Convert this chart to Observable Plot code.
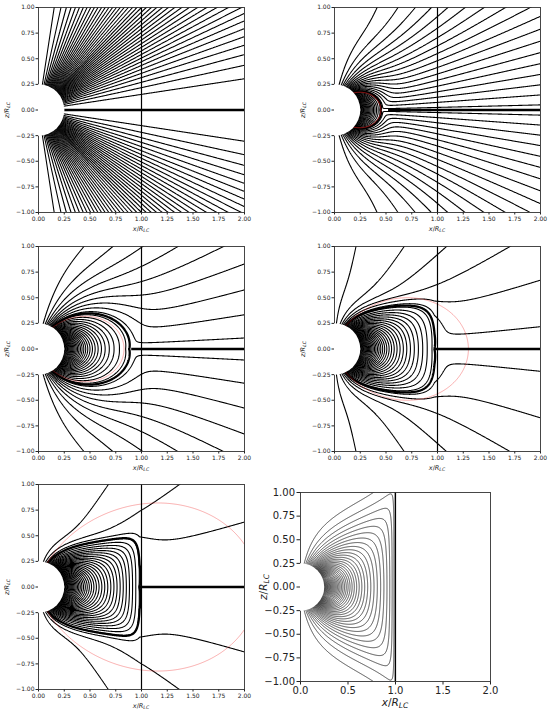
<!DOCTYPE html>
<html><head><meta charset="utf-8">
<script src="https://cdn.jsdelivr.net/npm/d3@7"></script>
<script src="https://cdn.jsdelivr.net/npm/@observablehq/plot@0.6"></script>
<style>
body{margin:0;background:#fff;}
#root{position:relative;width:550px;height:711px;overflow:hidden;font-family:"DejaVu Sans",sans-serif;background:#fff;}
.lab{position:absolute;white-space:nowrap;color:#222;line-height:1;font-family:"DejaVu Sans",sans-serif;}
.lab sub{font-size:72%;vertical-align:-0.3em;line-height:0;}
</style></head><body><div id="root"></div>
<script>
// ---------------- data ----------------
// footpoint colatitudes (deg) of the traced field lines on the stellar surface
const footColatDeg = [8.67,12.31,15.14,17.55,19.70,21.67,23.51,25.24,26.89,28.47,30.00,31.48,32.93,34.34,35.72,37.09,38.43,39.76,41.08,42.39,43.70,45.00,46.30,47.61,48.92,50.24,51.57,52.91,54.28,55.66,57.07,58.52,60.00,61.53,63.11,64.76,66.49,68.33,70.30,72.45,74.87,77.69,81.33];
// colatitude (deg) of the last closed field line footpoint, panels 1-5
const polarCapDeg = [90, 48.3, 32.2, 24.4, 19.5];
// Y-point (start of current sheet), panels 1-5
const yPointX = [0.25, 0.52, 0.90, 0.97, 0.98];
// equatorial radius of the red reference dipole line, panels 1-5
const redLineR = [null, 0.45, 0.83, 1.30, 2.13];
const lightCylinderX = [1];
const starRadius = 0.25;
const xTicksA = [0, 0.25, 0.5, 0.75, 1, 1.25, 1.5, 1.75, 2];
const xTicksB = [0, 0.5, 1, 1.5, 2];
const yTicks = [-1, -0.75, -0.5, -0.25, 0, 0.25, 0.5, 0.75, 1];

// ---------------- field-line model ----------------
const rad = d => d * Math.PI / 180;
const psiLines = footColatDeg.map(d => Math.sin(rad(d)) ** 2);

function stretchX(v, sh) {
  if (sh.kind === "exp") {
    if (v > sh.x0) return sh.sSep * Math.pow(v / sh.x0, sh.p);
    return v * Math.exp(Math.pow(v / sh.L, sh.n));
  }
  if (sh.kind === "lc") return v >= sh.L ? Infinity : v / Math.pow(1 - Math.pow(v / sh.L, sh.n), 1 / sh.n);
  return v;
}
function dipoleFlux(x, z, sh) {
  const s = stretchX(x, sh);
  if (!isFinite(s)) return 0;
  const q = z * (1 + sh.b * z * z * z);
  const r2 = s * s + q * q + 1e-9;
  let D = starRadius * s * s / Math.pow(r2, 1.5);
  if (isFinite(sh.zd)) D *= Math.exp(-Math.pow(z / sh.zd, 4));
  return D;
}
function makeField(psiO, sh) {
  return (x, y) => {
    x = Math.abs(x); const z = Math.abs(y);
    const D = dipoleFlux(x, z, sh);
    const w = sh.a * x;
    const sl = z / Math.sqrt(z * z + w * w + 1e-12);
    const M = psiO * (1 - sl);
    const e = sh.c * psiO * Math.pow(sl, 0.75);
    return (D + M + Math.sqrt((D - M) * (D - M) + e * e)) / 2;
  };
}
const radialField = (x, y) => x * x / (x * x + y * y + 1e-12);
const plainDipole = (x, y) => { const r2 = x * x + y * y + 1e-9; return x * x / Math.pow(r2, 1.5); };

const shapes = [
  null,
  {a: 1.15, c: 0.5, kind: "none", b: 0, zd: 0.7},
  {a: 1.32, c: 0.5, kind: "none", b: 0, zd: 1.0},
  {a: 1.55, c: 0.5, kind: "exp", n: 4, p: 1, b: 3.9, zd: 0.85},
  {a: 1.6, c: 0.5, kind: "exp", n: 6, p: 1, b: 6.5, zd: 0.85}
];

const root = document.getElementById("root");
const fmt2 = d => d.toFixed(2).replace("-", "\u2212");
const fmt1 = d => d.toFixed(1).replace("-", "\u2212");

function addLabel(html, cx, cy, size, rotate) {
  const el = document.createElement("div");
  el.className = "lab";
  el.innerHTML = html;
  el.style.fontSize = size + "px";
  el.style.left = cx + "px";
  el.style.top = cy + "px";
  el.style.transform = "translate(-50%,-50%)" + (rotate ? " rotate(-90deg)" : "");
  root.appendChild(el);
}
const xLab = '<i>x</i>/<i>R</i><sub><i>LC</i></sub>';
const zLab = '<i>z</i>/<i>R</i><sub><i>LC</i></sub>';

const frames = [
  {fx: 38, fy: 7, fw: 206, fh: 205, lx: 7},
  {fx: 334, fy: 7, fw: 206, fh: 205, lx: 303},
  {fx: 38, fy: 246, fw: 206, fh: 205, lx: 7},
  {fx: 334, fy: 246, fw: 206, fh: 205, lx: 303},
  {fx: 38, fy: 484, fw: 206, fh: 205, lx: 7}
];

function place(svg, left, top) {
  svg.style.position = "absolute";
  svg.style.left = left + "px";
  svg.style.top = top + "px";
  root.appendChild(svg);
}

const contourBox = {x1: -0.1, x2: 2.1, y1: -1.1, y2: 1.1, pixelSize: 0.5, clip: true, fill: "none"};

frames.forEach((f, i) => {
  const ml = 40, mr = 8, mt = 6, mb = 18;
  const marks = [];
  const psiO = Math.sin(rad(polarCapDeg[i])) ** 2;
  if (i === 0) {
    marks.push(Plot.contour({...contourBox, value: radialField, thresholds: psiLines, stroke: "black", strokeWidth: 1.1}));
  } else {
    const sh = {...shapes[i]};
    if (sh.kind === "exp") {
      // stretch chosen so that the last closed line reaches the Y-point
      sh.x0 = yPointX[i];
      sh.sSep = starRadius / psiO;
      sh.L = sh.x0 / Math.pow(Math.log(sh.sSep / sh.x0), 1 / sh.n);
    }
    const field = makeField(psiO, sh);
    marks.push(Plot.contour({...contourBox, value: field, thresholds: psiLines.filter(p => Math.abs(p - psiO) > 1e-3), stroke: "black", strokeWidth: 1.1}));
    marks.push(Plot.contour({...contourBox, value: field, thresholds: [psiO * 1.002], stroke: "black", strokeWidth: 2.3}));
    marks.push(Plot.contour({...contourBox, value: plainDipole, thresholds: [1 / redLineR[i]], stroke: "#e22", strokeOpacity: i === 1 ? 0.7 : 0.4, strokeWidth: 0.9}));
  }
  marks.push(Plot.link([{x1: yPointX[i], x2: 2, y: 0}], {x1: "x1", x2: "x2", y1: "y", y2: "y", stroke: "black", strokeWidth: 2.6, clip: true}));
  marks.push(Plot.ruleX(lightCylinderX, {stroke: "black", strokeWidth: 1.2}));
  marks.push(Plot.frame({stroke: "#333", strokeWidth: 0.9}));
  marks.push(Plot.dot([{x: 0, y: 0}], {x: "x", y: "y", r: starRadius * f.fw / 2, fill: "white", stroke: "none", clip: true}));
  const svg = Plot.plot({
    width: f.fw + ml + mr, height: f.fh + mt + mb,
    marginLeft: ml, marginRight: mr, marginTop: mt, marginBottom: mb,
    x: {domain: [0, 2], ticks: xTicksA, tickFormat: fmt2, tickSize: 2.5, tickPadding: 1.5, label: null},
    y: {domain: [-1, 1], ticks: yTicks, tickFormat: fmt2, tickSize: 2.5, tickPadding: 1.5, label: null},
    style: {fontFamily: "DejaVu Sans", fontSize: "6px", color: "#222", background: "transparent", overflow: "visible"},
    marks
  });
  place(svg, f.fx - ml, f.fy - mt);
  addLabel(xLab, f.fx + f.fw / 2, f.fy + f.fh + 16.5, 6.5, false);
  addLabel(zLab, f.lx, f.fy + f.fh / 2, 6.5, true);
});

// panel 6: closed dipole-like magnetosphere inside the light cylinder
{
  const f = {fx: 300, fy: 492, fw: 190, fh: 189};
  const ml = 45, mr = 10, mt = 6, mb = 24;
  const sh = {kind: "lc", L: 1, n: 2, b: 1.2, zd: Infinity};
  const field6 = (x, y) => dipoleFlux(Math.abs(x), Math.abs(y), sh);
  const svg = Plot.plot({
    width: f.fw + ml + mr, height: f.fh + mt + mb,
    marginLeft: ml, marginRight: mr, marginTop: mt, marginBottom: mb,
    x: {domain: [0, 2], ticks: xTicksB, tickFormat: fmt1, tickSize: 3.5, tickPadding: 2, label: null},
    y: {domain: [-1, 1], ticks: yTicks, tickFormat: fmt2, tickSize: 3.5, tickPadding: 2, label: null},
    style: {fontFamily: "DejaVu Sans", fontSize: "10px", color: "#222", background: "transparent", overflow: "visible"},
    marks: [
      Plot.contour({...contourBox, value: field6, thresholds: psiLines, stroke: "#222", strokeWidth: 0.8}),
      Plot.ruleX(lightCylinderX, {stroke: "black", strokeWidth: 1.2}),
      Plot.frame({stroke: "#333", strokeWidth: 0.9}),
      Plot.dot([{x: 0, y: 0}], {x: "x", y: "y", r: starRadius * f.fw / 2, fill: "white", stroke: "none", clip: true})
    ]
  });
  place(svg, f.fx - ml, f.fy - mt);
  addLabel(xLab, f.fx + f.fw / 2, 702, 10.5, false);
  addLabel(zLab, 263, f.fy + f.fh / 2, 10.5, true);
}
</script></body></html>
